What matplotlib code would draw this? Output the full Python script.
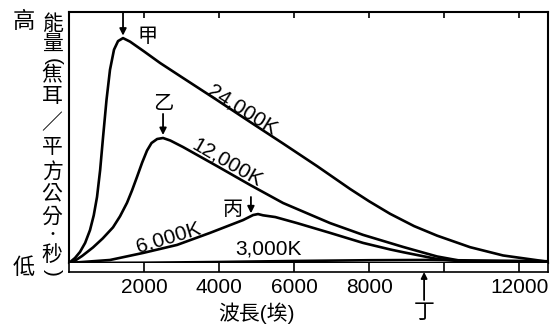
import matplotlib
matplotlib.use("Agg")
import matplotlib.pyplot as plt

plt.rcParams["font.family"] = ["Liberation Sans", "Noto Sans CJK TC", "DejaVu Sans"]

# wavelength (angstrom) / relative energy
wl_24000 = [0, 160, 293, 430, 560, 660, 747, 830, 907, 1000, 1093, 1200, 1307, 1440,
            1627, 2000, 2427, 3000, 3947, 4827, 5707, 6613, 7493, 8000, 8560, 9200,
            9813, 10693, 11573, 12770]
e_24000 = [0, 2.0, 4.4, 8.0, 13.1, 19.0, 26.3, 37.0, 50.0, 65.0, 77.0, 85.0, 88.4, 89.6,
           88.2, 84.3, 79.7, 74.1, 64.9, 56.2, 47.6, 38.6, 29.5, 24.6, 19.6, 14.7,
           10.9, 6.3, 3.0, 0.5]

wl_12000 = [0, 107, 350, 640, 900, 1173, 1360, 1547, 1680, 1813, 1950, 2080, 2200, 2350,
            2507, 2700, 3040, 3947, 4827, 5707, 6960, 7840, 8907, 9813, 10400, 10960,
            12770]
e_12000 = [0, 0.4, 2.8, 6.2, 9.8, 14.2, 18.6, 24.0, 28.9, 34.3, 40.0, 44.8, 47.8, 49.4,
           49.8, 48.8, 46.2, 38.6, 31.1, 23.9, 15.9, 11.2, 6.4, 2.6, 1.0, 0.2,
           0]

wl_6000 = [0, 1093, 1973, 2880, 3760, 4640, 4907, 5040, 5173, 5500, 6080, 6960, 7840,
           8560, 8907, 9813, 10693, 12770]
e_6000 = [0, 1.2, 4.0, 7.2, 12.0, 17.1, 19.1, 19.5, 19.0, 18.3, 15.9, 12.0, 8.0,
          5.4, 4.3, 1.6, 0.3, 0]

wl_3000 = [0, 2000, 4000, 6000, 8000, 9500, 11000, 12770]
e_3000 = [0, 0.1, 0.4, 0.8, 1.1, 1.2, 1.0, 0.7]

x_ticks = [2000, 4000, 6000, 8000, 10000, 12000]
x_ticklabels = ["2000", "4000", "6000", "8000", "", "12000"]

peak_names = ["甲", "乙", "丙"]
peak_wl = [1440, 2507, 4850]
peak_e = [90.6, 51.0, 19.8]
arrow_top = [100, 59.4, 26.3]
peak_label_pos = [(2093, 90.2), (2507, 63.7), (4373, 21.5)]

ding_wl = 9467

W, H = 551, 328
fig = plt.figure(figsize=(W / 100, H / 100), dpi=100)

left, right, top, bottom, strip_bottom = 69, 548, 12, 263, 272
ax = fig.add_axes([left / W, 1 - bottom / H, (right - left) / W, (bottom - top) / H])
ax_s = fig.add_axes([left / W, 1 - strip_bottom / H, (right - left) / W, (strip_bottom - bottom) / H],
                    sharex=ax)

for wl, e in [(wl_24000, e_24000), (wl_12000, e_12000), (wl_6000, e_6000), (wl_3000, e_3000)]:
    ax.plot(wl, e, color="black", lw=1.9, solid_joinstyle="round", solid_capstyle="round")

ax.set_xlim(0, 12770)
ax.set_ylim(0, 100)
for s in ax.spines.values():
    s.set_linewidth(1.5)
ax.set_yticks([])
ax.set_xticks(x_ticks)
ax.tick_params(axis="x", top=True, bottom=False, labelbottom=False, direction="in",
               length=4, width=1.2)

# bottom strip with ticks
ax_s.set_ylim(0, 1)
ax_s.set_yticks([])
ax_s.spines["top"].set_visible(False)
for s in ["left", "right", "bottom"]:
    ax_s.spines[s].set_linewidth(1.2)
ax_s.set_xticks(x_ticks)
ax_s.set_xticklabels(x_ticklabels)
ax_s.tick_params(axis="x", direction="in", length=6.5, width=1.2, pad=4.5, labelsize=15)

# curve labels
ax.text(4620, 61, "24,000K", rotation=-32, ha="center", va="center", fontsize=15,
        rotation_mode="anchor")
ax.text(4213, 40.2, "12,000K", rotation=-30, ha="center", va="center", fontsize=15,
        rotation_mode="anchor")
ax.text(2650, 10.0, "6,000K", rotation=17, ha="center", va="center", fontsize=15,
        rotation_mode="anchor")
ax.text(5307, 5.6, "3,000K", ha="center", va="center", fontsize=15)

for name, wl, ep, et, pos in zip(peak_names, peak_wl, peak_e, arrow_top, peak_label_pos):
    ax.annotate("", xy=(wl, ep), xytext=(wl, et),
                arrowprops=dict(arrowstyle="-|>", color="black", lw=1.3, mutation_scale=10,
                                shrinkA=0, shrinkB=0))
    ax.text(pos[0], pos[1], name, ha="center", va="center", fontsize=14.5)

ax_s.annotate("丁", xy=(ding_wl, 0), xytext=(0, -29), textcoords="offset points",
              ha="center", va="center", fontsize=15,
              arrowprops=dict(arrowstyle="-|>", color="black", lw=1.3, mutation_scale=9,
                              shrinkA=0, shrinkB=0))

# axis titles
fig.text(256 / W, 1 - 313 / H, "波長(埃)", ha="center", va="center", fontsize=15)
fig.text(24 / W, 1 - 22 / H, "高", ha="center", va="center", fontsize=16)
fig.text(24 / W, 1 - 268 / H, "低", ha="center", va="center", fontsize=16)

ylab_chars = ["能", "量", "(", "焦", "耳", "／", "平", "方", "公", "分", "・", "秒", ")"]
ylab_y = [24, 45, 62, 75, 97, 123, 147, 172, 194, 217, 235, 255, 272]
for ch, yy in zip(ylab_chars, ylab_y):
    rot = -90 if ch in "()" else 0
    size = 10 if ch == "・" else 15
    fig.text(52 / W, 1 - yy / H, ch, ha="center", va="center", fontsize=size, rotation=rot)

fig.savefig("out.png", dpi=100)
